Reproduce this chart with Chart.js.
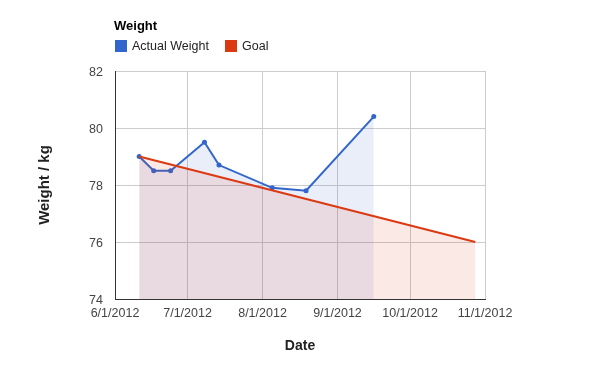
<!DOCTYPE html>
<html>
<head>
<meta charset="utf-8">
<script src="https://cdn.jsdelivr.net/npm/chart.js@4/dist/chart.umd.min.js"></script>
<style>
  html, body { margin: 0; padding: 0; background: #fff; }
  #wrap { width: 600px; height: 371px; position: relative; }
</style>
</head>
<body>
<div id="wrap"><canvas id="c" width="600" height="371"></canvas></div>
<script>
const chartTitle = 'Weight';
const xAxisTitle = 'Date';
const yAxisTitle = 'Weight / kg';
const seriesNames = ['Actual Weight', 'Goal'];
const seriesColors = ['#3366cc', '#dc3912'];

const weightDates = ['2012-06-11','2012-06-17','2012-06-24','2012-07-08','2012-07-14','2012-08-05','2012-08-19','2012-09-16'];
const weightValues = [79.0, 78.5, 78.5, 79.5, 78.7, 77.9, 77.8, 80.4];
const goalDates = ['2012-06-11', '2012-10-28'];
const goalValues = [79.0, 76.0];

const xTickDates = ['2012-06-01','2012-07-01','2012-08-01','2012-09-01','2012-10-01','2012-11-01'];
const xTickLabels = ['6/1/2012','7/1/2012','8/1/2012','9/1/2012','10/1/2012','11/1/2012'];
const yMin = 74, yMax = 82, yStep = 2;

const FONT = '"Liberation Sans", Arial, sans-serif';
const DAY = 86400000;
const base = Date.parse(xTickDates[0] + 'T00:00:00Z');
const toDay = s => Math.round((Date.parse(s + 'T00:00:00Z') - base) / DAY);
const xTickDays = xTickDates.map(toDay);

function pts(dates, vals) { return dates.map((d, i) => ({ x: toDay(d), y: vals[i] })); }

const headerPlugin = {
  id: 'header',
  afterDraw(chart) {
    const ctx = chart.ctx;
    ctx.save();
    ctx.fillStyle = '#000';
    ctx.font = 'bold 13px ' + FONT;
    ctx.textBaseline = 'middle';
    ctx.textAlign = 'left';
    ctx.fillText(chartTitle, 114, 26);
    ctx.font = '12.5px ' + FONT;
    let x = 115;
    chart.data.datasets.forEach((ds, i) => {
      ctx.fillStyle = ds.borderColor;
      ctx.fillRect(x, 40, 12, 12);
      ctx.fillStyle = '#222';
      ctx.fillText(ds.label, x + 17, 46.5);
      x += 110;
    });
    ctx.restore();
  }
};

new Chart(document.getElementById('c'), {
  type: 'line',
  data: {
    datasets: [
      {
        label: seriesNames[0],
        data: pts(weightDates, weightValues),
        borderColor: seriesColors[0],
        backgroundColor: 'rgba(51,102,204,0.11)',
        borderWidth: 2,
        pointRadius: 2.5,
        pointBackgroundColor: seriesColors[0],
        pointBorderWidth: 0,
        fill: 'start',
        tension: 0,
        order: 1
      },
      {
        label: seriesNames[1],
        data: pts(goalDates, goalValues),
        borderColor: seriesColors[1],
        backgroundColor: 'rgba(220,57,18,0.11)',
        borderWidth: 2,
        pointRadius: 0,
        fill: 'start',
        tension: 0,
        order: 0
      }
    ]
  },
  options: {
    responsive: false,
    animation: false,
    devicePixelRatio: 1,
    layout: { padding: { top: 71, right: 115, left: 0, bottom: 0 } },
    plugins: { legend: { display: false }, title: { display: false }, tooltip: { enabled: false } },
    scales: {
      x: {
        type: 'linear',
        min: xTickDays[0],
        max: xTickDays[xTickDays.length - 1],
        afterBuildTicks: s => { s.ticks = xTickDays.map(v => ({ value: v })); },
        afterFit: s => { s.height = 72; },
        ticks: {
          autoSkip: false,
          maxRotation: 0,
          padding: 7,
          color: '#444',
          font: { family: FONT, size: 12.5 },
          callback: (v, i) => xTickLabels[i]
        },
        grid: { color: '#cccccc', drawTicks: false, lineWidth: 1 },
        border: { color: '#333', width: 1 },
        title: {
          display: true, text: xAxisTitle, color: '#222',
          font: { family: FONT, size: 14, weight: 'bold' },
          padding: { top: 0, bottom: 16 }
        }
      },
      y: {
        min: yMin, max: yMax,
        afterFit: s => { s.width = 115; },
        ticks: {
          stepSize: yStep,
          padding: 12,
          labelOffset: 2,
          color: '#444',
          font: { family: FONT, size: 12.5 }
        },
        grid: { color: '#cccccc', drawTicks: false, lineWidth: 1 },
        border: { color: '#333', width: 1 },
        title: {
          display: true, text: yAxisTitle, color: '#222',
          font: { family: FONT, size: 15, weight: 'bold' },
          padding: { top: 36, bottom: 0 }
        }
      }
    }
  },
  plugins: [headerPlugin]
});
</script>
</body>
</html>
